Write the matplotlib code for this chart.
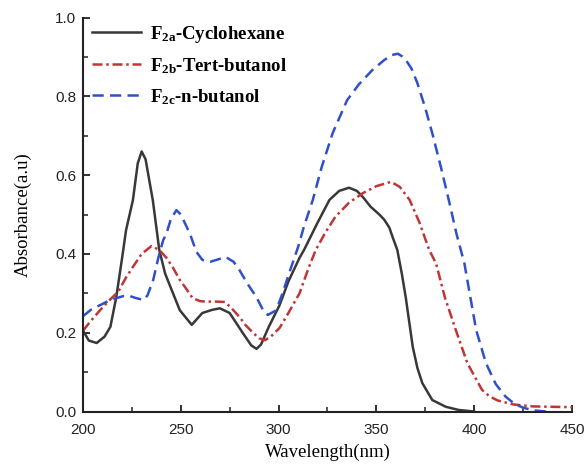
import matplotlib
matplotlib.use("Agg")
import matplotlib.pyplot as plt
from matplotlib.ticker import MultipleLocator, FormatStrFormatter

# Cyclohexane (F2a)
wl_a = [200, 203, 207, 211, 214, 217, 220, 222, 225.5, 228, 230, 232, 235.7, 239, 242, 244,
        249.5, 255.6, 261, 266, 270, 275, 281.6, 286, 288.7, 291, 295, 300.5, 305, 310.7,
        313, 320, 326, 331, 336, 340, 343, 347, 351.5, 354, 356.6, 358.5, 360.7, 363, 365,
        368.6, 371, 373.5, 378.6, 385.5, 392, 400]
abs_a = [0.205, 0.18, 0.174, 0.19, 0.215, 0.29, 0.39, 0.46, 0.536, 0.63, 0.66, 0.64, 0.536,
         0.41, 0.35, 0.325, 0.257, 0.22, 0.25, 0.258, 0.262, 0.25, 0.2, 0.168, 0.159, 0.17,
         0.215, 0.27, 0.33, 0.39, 0.41, 0.48, 0.537, 0.56, 0.568, 0.56, 0.545, 0.52, 0.5,
         0.487, 0.467, 0.44, 0.41, 0.35, 0.29, 0.164, 0.11, 0.072, 0.029, 0.012, 0.004, 0.0]

# Tert-butanol (F2b)
wl_b = [200, 204, 208.7, 213, 218, 222, 225.5, 230, 235, 239, 242.7, 246, 249.5, 253, 256,
        260, 263, 268, 272.6, 276, 280, 283, 286.9, 290, 293, 296, 300.5, 305, 310.7, 315,
        319, 324, 329, 336, 343, 350, 357.5, 362, 367, 372, 377, 380.5, 385, 390.6, 396.5,
        404, 408, 412, 420, 430, 440, 450]
abs_b = [0.205, 0.23, 0.257, 0.28, 0.304, 0.34, 0.367, 0.40, 0.42, 0.41, 0.39, 0.365, 0.334,
         0.31, 0.288, 0.28, 0.279, 0.279, 0.278, 0.262, 0.24, 0.22, 0.2, 0.186, 0.181, 0.19,
         0.212, 0.25, 0.30, 0.36, 0.41, 0.455, 0.494, 0.53, 0.554, 0.572, 0.583, 0.57, 0.537,
         0.48, 0.41, 0.376, 0.29, 0.207, 0.123, 0.055, 0.038, 0.028, 0.018, 0.013, 0.012, 0.011]

# n-butanol (F2c)
wl_c = [200, 204, 208.7, 214, 220.6, 224, 227, 231, 233, 235.9, 238.5, 241, 242.7, 245,
        247.8, 250, 254.6, 258, 261, 265, 269, 273, 277, 280, 284, 288.6, 292, 294.5, 298.8,
        302, 306, 310, 313, 317.5, 322, 327.6, 335, 341, 348, 354, 358, 361, 364.3, 368, 371,
        375, 378.6, 383, 387, 391, 395, 401, 406, 411, 416, 421, 425, 430, 437]
abs_c = [0.242, 0.258, 0.27, 0.283, 0.293, 0.293, 0.288, 0.283, 0.295, 0.334, 0.39, 0.435,
         0.452, 0.49, 0.511, 0.50, 0.452, 0.405, 0.385, 0.38, 0.386, 0.392, 0.38, 0.359,
         0.325, 0.291, 0.258, 0.245, 0.257, 0.3, 0.36, 0.418, 0.47, 0.537, 0.62, 0.706, 0.79,
         0.83, 0.867, 0.892, 0.905, 0.908, 0.898, 0.87, 0.833, 0.77, 0.706, 0.62, 0.537,
         0.45, 0.376, 0.207, 0.123, 0.07, 0.038, 0.018, 0.01, 0.003, 0.0]

labels = [r"F$_{\mathbf{2a}}$-Cyclohexane", r"F$_{\mathbf{2b}}$-Tert-butanol",
          r"F$_{\mathbf{2c}}$-n-butanol"]

plt.rcParams['mathtext.fontset'] = 'custom'
plt.rcParams['mathtext.rm'] = 'Liberation Serif:bold'
plt.rcParams['mathtext.bf'] = 'Liberation Serif:bold'
plt.rcParams['mathtext.it'] = 'Liberation Serif:bold'

fig = plt.figure(figsize=(5.87, 4.67), dpi=100)
ax = fig.add_axes([0.1414, 0.1188, 0.833, 0.8437])

ax.plot(wl_a, abs_a, color="#383838", lw=1.8, ls="-", label=labels[0])
ax.plot(wl_b, abs_b, color="#c03535", lw=1.8, ls=(0, (4, 1.5, 1, 1.5)), label=labels[1])
ax.plot(wl_c, abs_c, color="#3050c8", lw=1.8, ls=(0, (4.5, 2.5)), label=labels[2])

ax.set_xlim(200, 450)
ax.set_ylim(0, 1.0)
ax.xaxis.set_major_locator(MultipleLocator(50))
ax.xaxis.set_minor_locator(MultipleLocator(25))
ax.yaxis.set_major_locator(MultipleLocator(0.2))
ax.yaxis.set_minor_locator(MultipleLocator(0.1))
ax.yaxis.set_major_formatter(FormatStrFormatter('%.1f'))
for s in ['top', 'right']:
    ax.spines[s].set_visible(False)
for s in ['left', 'bottom']:
    ax.spines[s].set_linewidth(1.5)
    ax.spines[s].set_color('#222222')
ax.tick_params(which='major', direction='in', length=5, width=1.3, labelsize=11,
               colors='#222222')
ax.tick_params(which='minor', direction='in', length=3.5, width=1.1, colors='#222222')
ax.tick_params(axis='x', which='major', pad=8)
ax.tick_params(axis='y', which='major', pad=5)
for lab in ax.get_xticklabels() + ax.get_yticklabels():
    lab.set_family('Liberation Sans')

ax.set_xlabel("Wavelength(nm)", fontsize=13.5, family='Liberation Serif', labelpad=5)
ax.set_ylabel("Absorbance(a.u)", fontsize=13.5, family='Liberation Serif', labelpad=17)

leg = ax.legend(loc='upper left', frameon=False, handlelength=2.6, handletextpad=0.45,
                labelspacing=0.6,
                prop={'family': 'Liberation Serif', 'weight': 'bold', 'size': 13.5},
                bbox_to_anchor=(0.0, 1.008), borderaxespad=0.1)

fig.savefig("out.png", dpi=100)
